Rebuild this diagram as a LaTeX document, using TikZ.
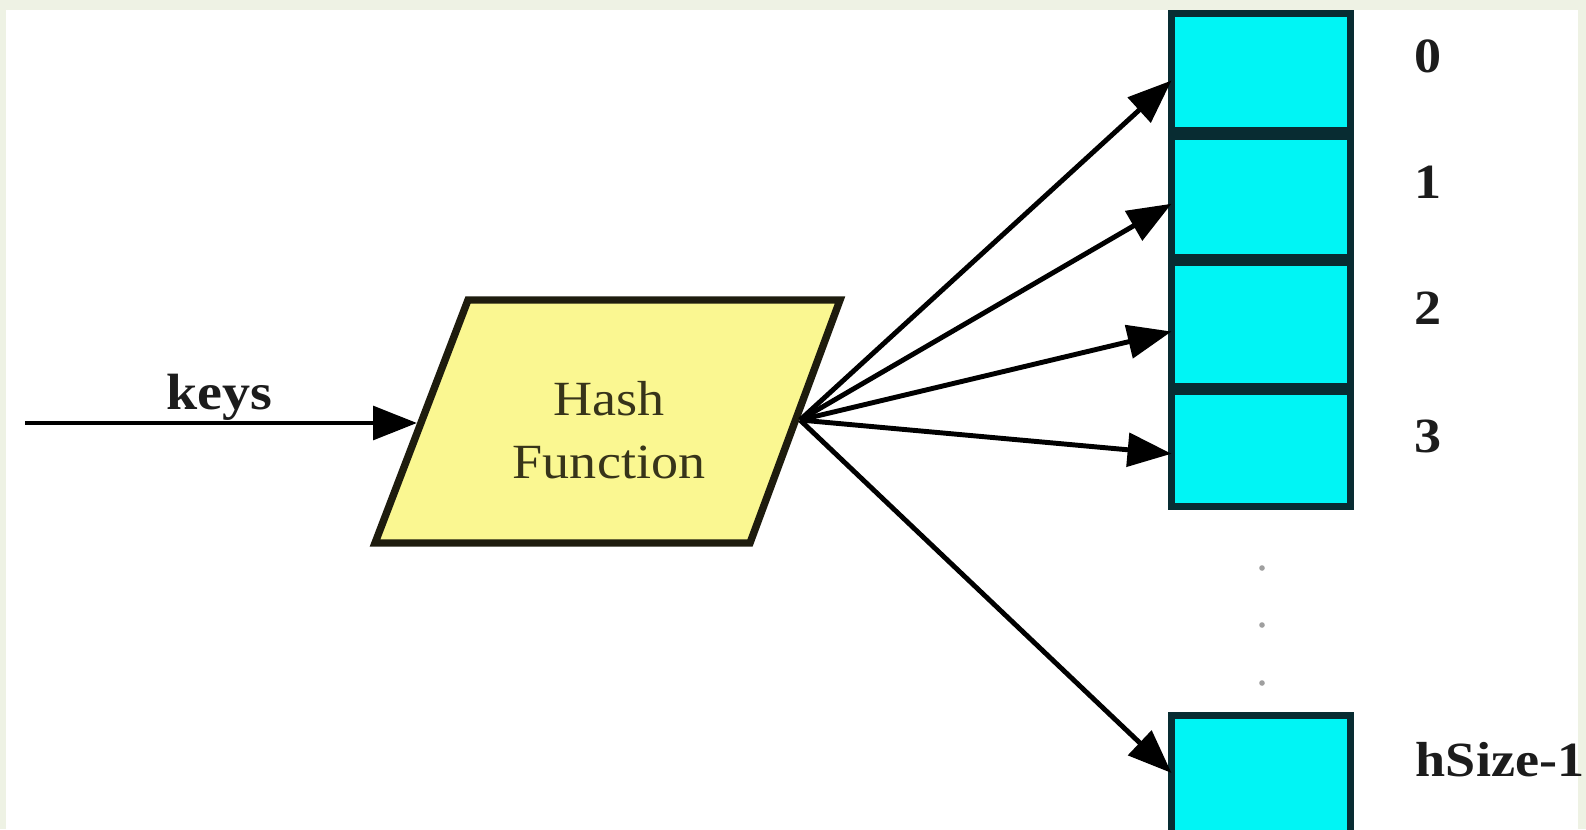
\documentclass[tikz,border=0pt]{standalone}
\usepackage{fontspec}
\setmainfont{Liberation Serif}[FakeStretch=1.1]
\usetikzlibrary{arrows.meta}
\definecolor{cellfill}{RGB}{0,245,245}
\definecolor{celledge}{RGB}{8,44,50}
\definecolor{hashfill}{RGB}{250,247,145}
\definecolor{hashedge}{RGB}{30,28,14}
\definecolor{hashtext}{RGB}{55,52,26}
\definecolor{edgetint}{RGB}{238,242,228}
\definecolor{labeltext}{RGB}{28,28,28}

\begin{document}
\begin{tikzpicture}[x=0.02cm,y=-0.02cm,
  conn/.style={line width=2.8pt, -{Triangle[length=25pt,width=19pt]}},
  cellbox/.style={draw=celledge, line width=4.2pt, fill=cellfill,
    minimum width=3.58cm, inner sep=0pt, outer sep=0pt},
  divider/.style={draw=celledge, line width=7pt},
  idx/.style={text=labeltext, font=\fontsize{28}{32}\selectfont\bfseries},
  hashbox/.style={draw=hashedge, fill=hashfill, line width=4.2pt, line join=miter},
  dotmark/.style={fill=gray!75}
]
\useasboundingbox (0,0) rectangle (1586,829);
% page background with a faint tinted rim
\fill[edgetint] (0,0) rectangle (1586,829);
\fill[white] (6,10) rectangle (1578,829);

% hash function parallelogram
\coordinate (pTL) at (468,300);
\coordinate (pTR) at (840,300);
\coordinate (pBR) at (750,543);
\coordinate (pBL) at (375,543);
\draw[hashbox] (pTL) -- (pTR) -- (pBR) -- (pBL) -- cycle;
\node[text=hashtext, align=center, font=\fontsize{28}{35.7}\selectfont] (hf) at (609,430) {Hash\\Function};

% input arrow
\coordinate (kstart) at (25,423);
\coordinate (kend) at (417,423);
\draw[conn] (kstart) -- (kend);
\node[anchor=base, font=\fontsize{29}{32}\selectfont\bfseries, text=labeltext] (keys) at (219,409) {keys};

% table cells
\node[cellbox, minimum height=2.40cm] (c0) at (1261,73.5) {};
\node[cellbox, minimum height=2.53cm] (c1) at (1261,196.75) {};
\node[cellbox, minimum height=2.58cm] (c2) at (1261,324.5) {};
\node[cellbox, minimum height=2.35cm] (c3) at (1261,447.75) {};
\draw[divider] (c0.south west) -- (c0.south east);
\draw[divider] (c1.south west) -- (c1.south east);
\draw[divider] (c2.south west) -- (c2.south east);
\node[cellbox, minimum height=2.59cm] (cn) at (1261,780) {};

% index labels
\node[idx] (l0) at (1428,56) {0};
\node[idx] (l1) at (1428,182) {1};
\node[idx] (l2) at (1428,308) {2};
\node[idx] (l3) at (1428,436) {3};
\node[idx] (ln) at (1500,760) {hSize-1};

% ellipsis between the slots
\fill[dotmark] (1262,568) circle (2.8);
\fill[dotmark] (1262,625) circle (2.8);
\fill[dotmark] (1262,683) circle (2.8);

% hashed outputs
\coordinate (fan) at (800,420);
\draw[conn] (fan) -- ([yshift=-0.14cm]c0.west);
\draw[conn] (fan) -- ([yshift=-0.14cm]c1.west);
\draw[conn] (fan) -- ([yshift=-0.14cm]c2.west);
\draw[conn] (fan) -- ([yshift=-0.12cm]c3.west);
\draw[conn] (fan) -- ([yshift=0.14cm]cn.west);
\end{tikzpicture}
\end{document}
